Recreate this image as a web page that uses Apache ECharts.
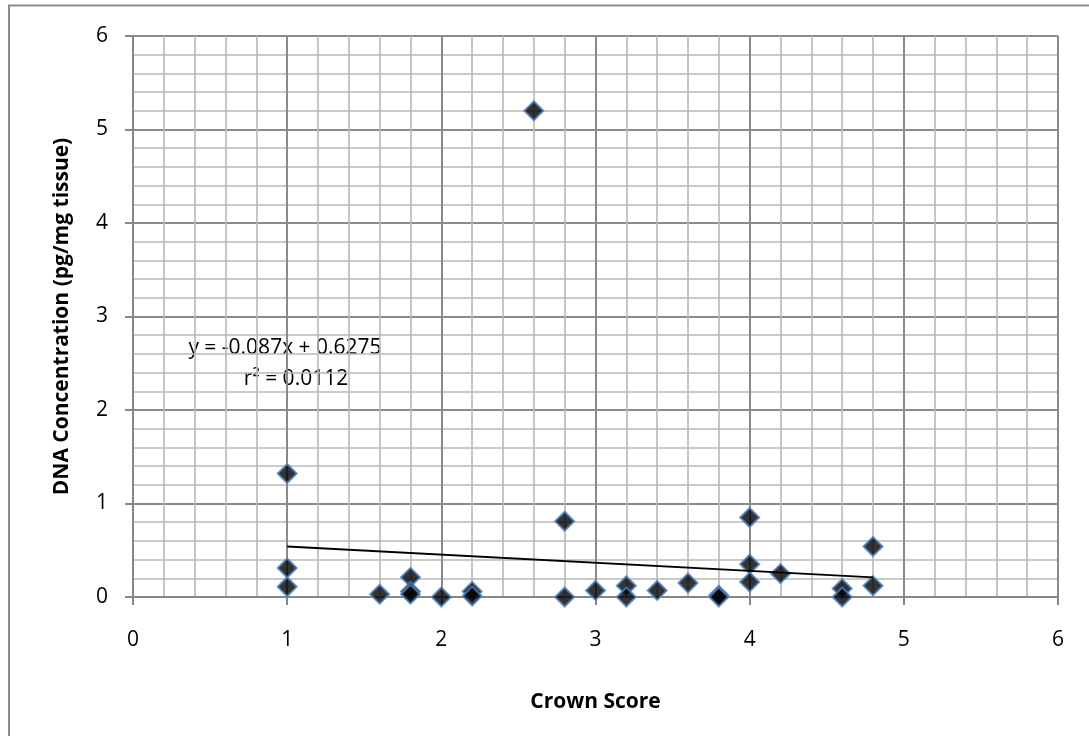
<!DOCTYPE html>
<html>
<head>
<meta charset="utf-8">
<script src="https://cdn.jsdelivr.net/npm/echarts@6/dist/echarts.min.js"></script>
<style>
html,body{margin:0;padding:0;background:#fff;}
#chart{width:1089px;height:736px;}
</style>
</head>
<body>
<div id="chart"></div>
<script>
// Data
const crownScore = [1, 1, 1, 1.6, 1.8, 1.8, 1.8, 2.0, 2.2, 2.2, 2.6, 2.8, 2.8, 3.0, 3.2, 3.2, 3.4, 3.6, 3.8, 3.8, 4.0, 4.0, 4.0, 4.2, 4.6, 4.6, 4.8, 4.8];
const dnaConc    = [1.32, 0.31, 0.11, 0.03, 0.21, 0.06, 0.03, 0.00, 0.06, 0.01, 5.20, 0.81, 0.00, 0.07, 0.12, 0.00, 0.07, 0.15, 0.02, 0.00, 0.85, 0.35, 0.16, 0.25, 0.09, 0.00, 0.54, 0.12];
const trendSlope = -0.087;
const trendIntercept = 0.6275;
const equationLines = ['y = -0.087x + 0.6275', 'r² = 0.0112'];
const xTitle = 'Crown Score';
const yTitle = 'DNA Concentration (pg/mg tissue)';

const points = crownScore.map((x, i) => [x, dnaConc[i]]);
const xMin = Math.min(...crownScore), xMax = Math.max(...crownScore);
const trend = [[xMin, trendSlope * xMin + trendIntercept], [xMax, trendSlope * xMax + trendIntercept]];

const FONT = '"Open Sans", "Noto Sans", sans-serif';
const axisCommon = {
  min: 0, max: 6, interval: 1,
  axisLine: { show: true, lineStyle: { color: '#868686', width: 2 } },
  axisTick: { show: true, length: 8, lineStyle: { color: '#868686', width: 2 } },
  minorTick: { show: true, splitNumber: 5, length: 0, lineStyle: { opacity: 0 } },
  splitLine: { show: true, lineStyle: { color: '#8a8a8a', width: 2 } },
  minorSplitLine: { show: true, lineStyle: { color: '#b8b8b8', width: 1.6 } },
  axisLabel: { color: '#000', fontFamily: FONT, fontSize: 21 },
  nameLocation: 'middle',
  nameTextStyle: { color: '#000', fontFamily: FONT, fontSize: 21, fontWeight: 'bold' }
};

const chart = echarts.init(document.getElementById('chart'), null, { renderer: 'canvas' });
chart.setOption({
  animation: false,
  backgroundColor: '#fff',
  grid: { left: 133, right: 31, top: 36, bottom: 139, containLabel: false },
  xAxis: Object.assign({}, axisCommon, {
    type: 'value', name: xTitle, nameGap: 95,
    axisLabel: Object.assign({}, axisCommon.axisLabel, { margin: 33 })
  }),
  yAxis: Object.assign({}, axisCommon, {
    type: 'value', name: yTitle, nameGap: 60,
    axisLabel: Object.assign({}, axisCommon.axisLabel, { margin: 25 })
  }),
  series: [
    {
      type: 'scatter',
      data: points,
      symbol: 'diamond',
      symbolSize: 19,
      itemStyle: { color: '#000', borderColor: '#4a7ebb', borderWidth: 2 },
      z: 2
    },
    {
      type: 'line',
      data: trend,
      symbol: 'none',
      lineStyle: { color: '#000', width: 2 },
      z: 3
    }
  ],
  graphic: [
    { type: 'polyline', shape: { points: [[9, 736], [9, 5.5], [1089, 5.5]] }, style: { stroke: '#8c8c8c', lineWidth: 2, fill: null } },
    { type: 'text', x: 285, y: 348, style: { text: equationLines[0], fontFamily: FONT, fontSize: 21, fill: '#000', textAlign: 'center', textVerticalAlign: 'middle' } },
    { type: 'text', x: 296, y: 379, style: { text: equationLines[1], fontFamily: FONT, fontSize: 21, fill: '#000', textAlign: 'center', textVerticalAlign: 'middle' } }
  ]
});
</script>
</body>
</html>
